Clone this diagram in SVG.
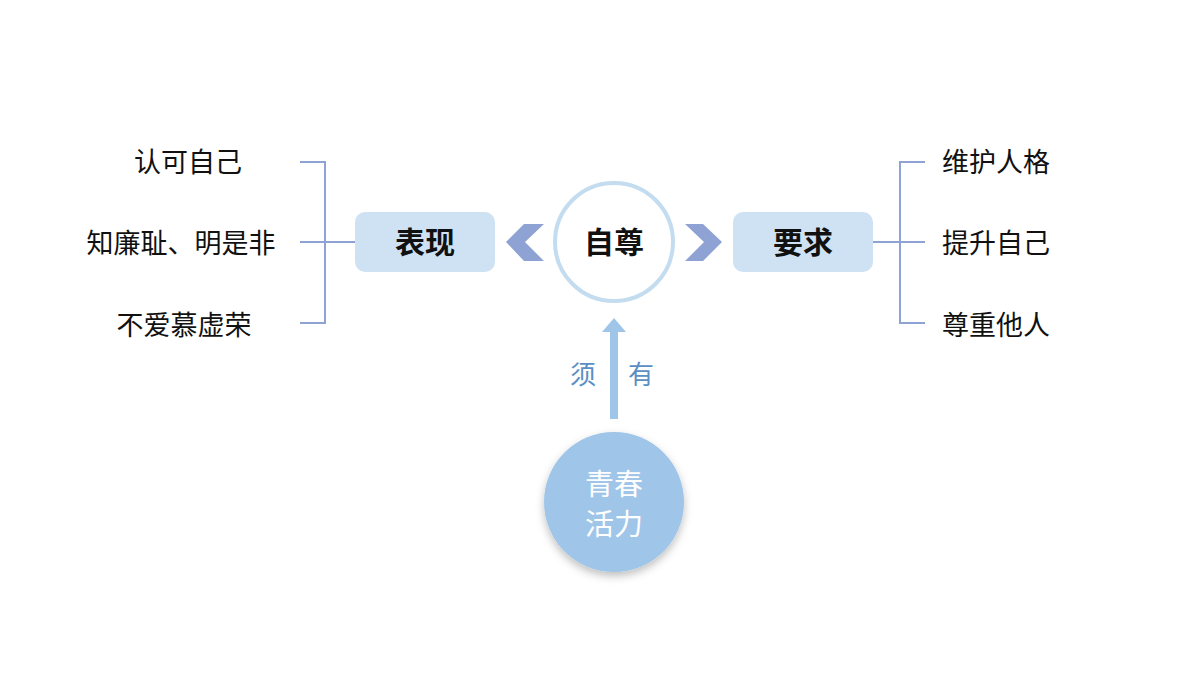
<svg xmlns="http://www.w3.org/2000/svg" width="1200" height="675" viewBox="0 0 1200 675">
<style>
text{font-family:"Noto Sans CJK SC","Noto Sans",sans-serif}
.t{font-size:27px;fill:#111}
.b{font-size:30px;font-weight:bold;fill:#111}
.br{fill:none;stroke:#8ea2d4;stroke-width:2}
.box{fill:#cfe2f3}
.chev{fill:#8ea2d4}
</style>
<defs>
<filter id="sh" x="-20%" y="-20%" width="140%" height="150%"><feDropShadow dx="0" dy="4" stdDeviation="4" flood-color="#000" flood-opacity="0.25"/></filter>
</defs>
<rect width="1200" height="675" fill="#fff"/>
<g id="connectors">
<path class="br" d="M300 162H325V323H300M300 242H355"/>
<path class="br" d="M925 162H900V323H925M873 242H925"/>
<polygon class="chev" points="544,224 525,242 544,261 524,261 506,242 524,224"/>
<polygon class="chev" points="685,224 704,242 685,261 703,261 722,242 703,224"/>
<rect x="610" y="330" width="8" height="89" fill="#9fc5e8"/>
<polygon points="602,332 614,318 626,332" fill="#9fc5e8"/>
<text x="583" y="384" font-size="26" fill="#5b8fc4" text-anchor="middle">须</text>
<text x="641" y="384" font-size="26" fill="#5b8fc4" text-anchor="middle">有</text>
</g>
<g id="left-items">
<text class="t" x="188" y="172" text-anchor="middle">认可自己</text>
<text class="t" x="181" y="253" text-anchor="middle">知廉耻、明是非</text>
<text class="t" x="184" y="335" text-anchor="middle">不爱慕虚荣</text>
</g>
<g id="right-items">
<text class="t" x="942" y="172">维护人格</text>
<text class="t" x="942" y="253">提升自己</text>
<text class="t" x="942" y="335">尊重他人</text>
</g>
<g id="biaoxian"><rect class="box" x="355" y="212" width="140" height="60" rx="10"/><text class="b" x="425" y="253" text-anchor="middle">表现</text></g>
<g id="yaoqiu"><rect class="box" x="733" y="212" width="140" height="60" rx="10"/><text class="b" x="803" y="253" text-anchor="middle">要求</text></g>
<g id="zizun"><circle cx="614" cy="242" r="59" fill="#fff" stroke="#c3dcef" stroke-width="4"/><text class="b" x="614" y="253" text-anchor="middle">自尊</text></g>
<g id="qingchun"><circle cx="614" cy="502" r="70" fill="#9fc5e8" filter="url(#sh)"/><text x="614" y="495" font-size="29" fill="#fff" text-anchor="middle">青春</text><text x="614" y="535" font-size="29" fill="#fff" text-anchor="middle">活力</text></g>
</svg>
